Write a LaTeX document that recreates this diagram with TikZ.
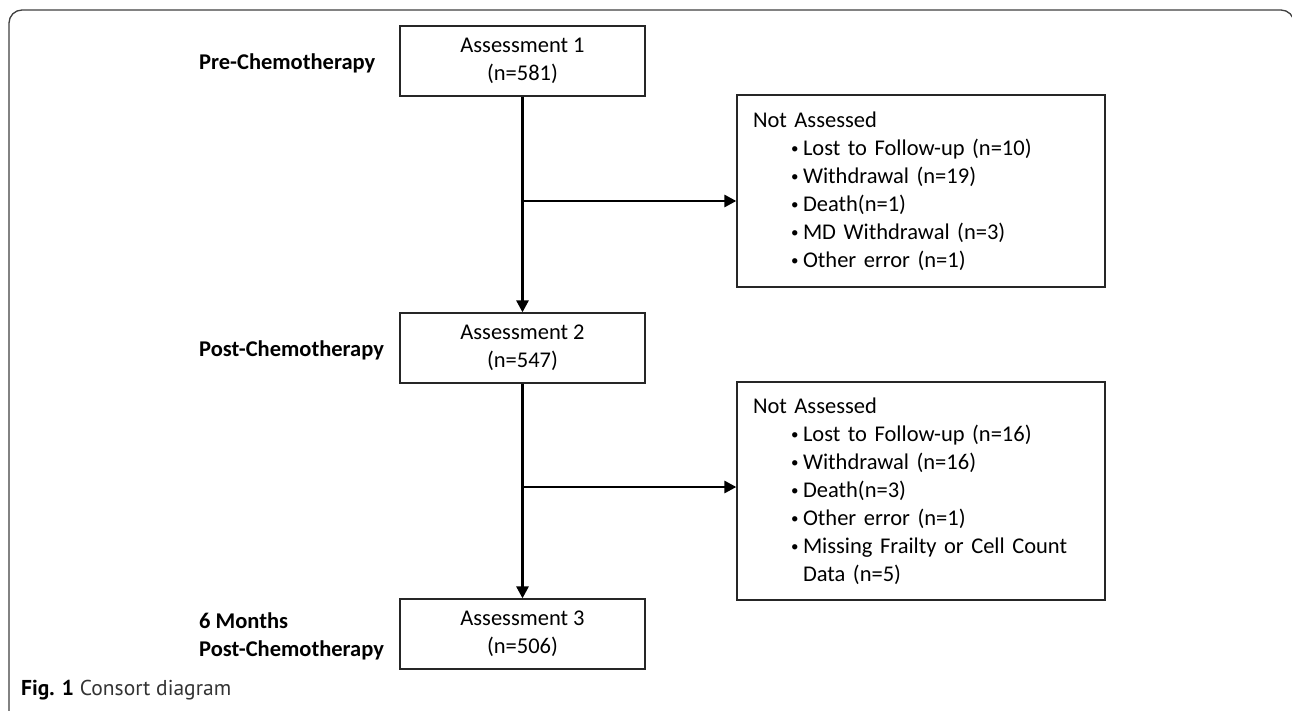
\documentclass[tikz,border=0pt]{standalone}
\usepackage{fontspec}
\setmainfont{Carlito}
\newfontfamily\capfont{PT Sans}
\usetikzlibrary{arrows.meta}
\newcommand{\mybul}{\hspace*{38pt}\makebox[12pt][l]{\fontsize{15}{15}\selectfont\raisebox{1.5pt}{•}}}
\begin{document}
\begin{tikzpicture}[x=1pt,y=-1pt,
  txt/.style={font=\fontsize{22.5}{28}\selectfont},
  box/.style={txt, draw=black!85, line width=1.3pt, minimum width=245pt, minimum height=70pt, inner sep=0pt, align=center},
  nabox/.style={txt, draw=black!85, line width=1.3pt, text width=336pt, inner xsep=16pt, inner ysep=0pt, align=left},
  lab/.style={anchor=west, align=left, inner sep=0pt, font=\fontsize{22.5}{28}\selectfont\bfseries},
  arr/.style={line width=2.8pt, -{Triangle[length=12pt,width=12pt]}},
  framec/.style={draw=black!75, line width=1.3pt, rounded corners=13pt}]
\useasboundingbox (0,0) rectangle (1292,710);
\fill[white] (0,0) rectangle (1292,710);
\draw[framec] (9,740) -- (9,10) -- (1294,10) -- (1294,740);

\node[box] (a1) at (522.5,61) {Assessment 1\\(n=581)};
\node[box] (a2) at (522.5,348) {Assessment 2\\(n=547)};
\node[box] (a3) at (522.5,634) {Assessment 3\\(n=506)};

\node[lab] (l1) at (199,63) {Pre-Chemotherapy};
\node[lab] (l2) at (199,350) {Post-Chemotherapy};
\node[lab] (l3) at (199,636) {6 Months\\Post-Chemotherapy};

\node[nabox, minimum height=192pt] (na1) at (921,191) {Not Assessed\\
\mybul Lost to Follow-up (n=10)\\
\mybul Withdrawal (n=19)\\
\mybul Death(n=1)\\
\mybul MD Withdrawal (n=3)\\
\mybul Other error (n=1)};

\node[nabox, minimum height=218pt] (na2) at (921,491) {Not Assessed\\
\mybul Lost to Follow-up (n=16)\\
\mybul Withdrawal (n=16)\\
\mybul Death(n=3)\\
\mybul Other error (n=1)\\
\mybul Missing Frailty or Cell Count\\
\hspace*{50pt}Data (n=5)};

\coordinate (b1) at (522.5,201);
\coordinate (b2) at (522.5,487);
\draw[arr] (a1) -- (a2);
\draw[arr] (a2) -- (a3);
\draw[arr] (b1) -- (b1 -| na1.west);
\draw[arr] (b2) -- (b2 -| na2.west);

\node[anchor=west, inner sep=0pt, font=\capfont\fontsize{21.5}{24}\selectfont] (cap) at (21,690) {\textbf{Fig. 1} \textcolor{black!80}{Consort diagram}};
\end{tikzpicture}
\end{document}
